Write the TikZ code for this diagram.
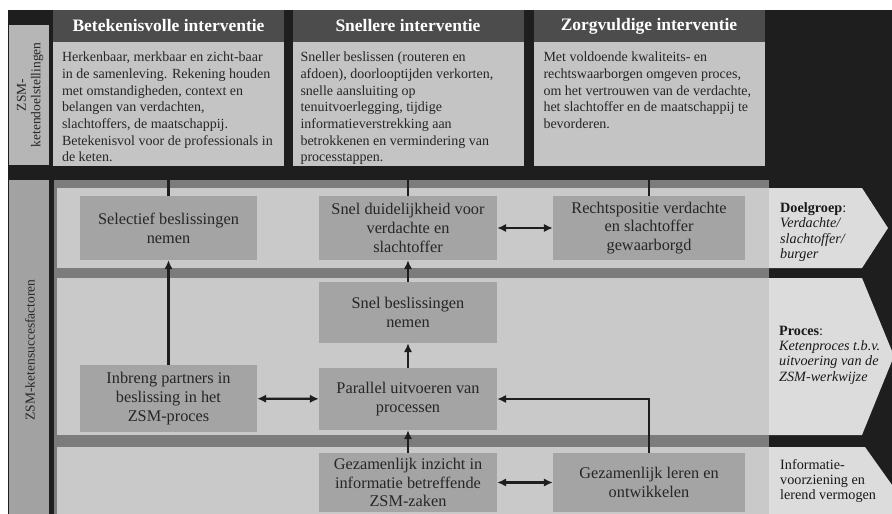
\documentclass[tikz,border=0pt]{standalone}
\usepackage{fontspec}
\setmainfont{Liberation Serif}
\usetikzlibrary{positioning,arrows.meta}

\definecolor{darkbg}{HTML}{1E1E1E}
\definecolor{headgray}{HTML}{4C4C4C}
\definecolor{bodygray}{HTML}{C4C4C4}
\definecolor{toplabel}{HTML}{B6B6B6}
\definecolor{botlabel}{HTML}{A2A2A2}
\definecolor{bandgray}{HTML}{7C7C7C}
\definecolor{rowgray}{HTML}{C9C9C9}
\definecolor{boxgray}{HTML}{A4A4A4}
\definecolor{chevgray}{HTML}{DCDCDC}
\definecolor{inkgray}{HTML}{262626}

\tikzset{
  goalhead/.style={fill=headgray, text=white, minimum width=231pt, minimum height=32pt,
    inner sep=0pt, font=\fontsize{17.5}{20}\selectfont\bfseries},
  goalbox/.style={fill=bodygray, minimum width=231pt, minimum height=124pt, inner sep=0pt},
  goaltext/.style={anchor=north west, align=left, inner sep=0pt, text=inkgray,
    font=\fontsize{14}{16.7}\selectfont},
  factor/.style={fill=boxgray, text=inkgray, align=center, inner sep=0pt,
    font=\fontsize{16.3}{18.7}\selectfont},
  sidetext/.style={anchor=west, align=left, inner sep=0pt, text=black!90,
    font=\fontsize{14.2}{15.3}\selectfont},
  vlabel/.style={rotate=90, align=center, inner sep=0pt, text=inkgray,
    font=\fontsize{13.5}{14.5}\selectfont},
  link/.style={line width=2.2pt, draw=darkbg},
}

\begin{document}
\begin{tikzpicture}[x=1pt, y=-1pt, >={Latex[length=9pt,width=8.5pt]}]
  \useasboundingbox (0,0) rectangle (892,514);
  \clip (0,0) rectangle (892,514);
  \fill[white] (0,0) rectangle (892,514);
  \fill[darkbg] (8,10) rectangle (892,514);

  % ketendoelstellingen
  \fill[toplabel] (9,25) rectangle (49,165);
  \node[vlabel] (doellabel) at (30,95) {ZSM-\\ketendoelstellingen};

  \node[goalhead] (head1) at (168.5,26) {Betekenisvolle interventie};
  \node[goalhead] (head2) at (408,26) {Snellere interventie};
  \node[goalhead] (head3) at (649,26) {Zorgvuldige interventie};
  \node[goalbox] (goal1) at (168.5,104) {};
  \node[goalbox] (goal2) at (408,104) {};
  \node[goalbox] (goal3) at (649,104) {};

  \node[goaltext] (text1) at ([xshift=9pt,yshift=-10pt]goal1.north west)
    {Herkenbaar, merkbaar en zicht-baar\\in de samenleving. Rekening houden\\met omstandigheden, context en\\belangen van verdachten,\\slachtoffers, de maatschappij.\\Betekenisvol voor de professionals in\\de keten.};
  \node[goaltext] (text2) at ([xshift=8pt,yshift=-10pt]goal2.north west)
    {Sneller beslissen (routeren en\\afdoen), doorlooptijden verkorten,\\snelle aansluiting op\\tenuitvoerlegging, tijdige\\informatieverstrekking aan\\betrokkenen en vermindering van\\processtappen.};
  \node[goaltext] (text3) at ([xshift=10pt,yshift=-10pt]goal3.north west)
    {Met voldoende kwaliteits- en\\rechtswaarborgen omgeven proces,\\om het vertrouwen van de verdachte,\\het slachtoffer en de maatschappij te\\bevorderen.};

  % ketensuccesfactoren
  \fill[botlabel] (9,180) rectangle (49,514);
  \node[vlabel] (succlabel) at (30,350) {ZSM-ketensuccesfactoren};
  \fill[bandgray] (54,180) rectangle (769,514);
  \fill[rowgray] (57,188) rectangle (769,268);
  \fill[rowgray] (57,278) rectangle (769,435);
  \fill[rowgray] (57,447) rectangle (769,514);

  \fill[chevgray] (769,188) -- (862,188) -- (888,228) -- (862,268) -- (769,268) -- cycle;
  \fill[chevgray] (769,278) -- (862,278) -- (894,356) -- (862,435) -- (769,435) -- cycle;
  \fill[chevgray] (769,447) -- (865,447) -- (902,499) -- (902,514) -- (769,514) -- cycle;

  \node[sidetext] (doelgroep) at (780,232)
    {\textbf{Doelgroep}:\\\textit{Verdachte/}\\\textit{slachtoffer/}\\\textit{burger}};
  \node[sidetext] (proces) at (779,355)
    {\textbf{Proces}:\\\textit{Ketenproces t.b.v.}\\\textit{uitvoering van de}\\\textit{ZSM-werkwijze}};
  \node[sidetext] (informatie) at (780,481)
    {Informatie-\\voorziening en\\lerend vermogen};

  \node[factor, minimum width=177pt, minimum height=64pt] (selectief) at (168.5,228)
    {Selectief beslissingen\\nemen};
  \node[factor, minimum width=178pt, minimum height=64pt] (duidelijk) at (408,228)
    {Snel duidelijkheid voor\\verdachte en\\slachtoffer};
  \node[factor, minimum width=192pt, minimum height=64pt] (rechtspos) at (649,228)
    {Rechtspositie verdachte\\en slachtoffer\\gewaarborgd};
  \node[factor, minimum width=178pt, minimum height=61pt] (snelbesl) at (408,312.5)
    {Snel beslissingen\\nemen};
  \node[factor, minimum width=178pt, minimum height=62pt] (parallel) at (408,399)
    {Parallel uitvoeren van\\processen};
  \node[factor, minimum width=177pt, minimum height=67pt] (inbreng) at (168.5,398.5)
    {Inbreng partners in\\beslissing in het\\ZSM-proces};
  \node[factor, minimum width=178pt, minimum height=59pt] (inzicht) at (408,482.5)
    {Gezamenlijk inzicht in\\informatie betreffende\\ZSM-zaken};
  \node[factor, minimum width=192pt, minimum height=59pt] (leren) at (649,482.5)
    {Gezamenlijk leren en\\ontwikkelen};

  \draw[link] (goal1) -- (selectief);
  \draw[link] (goal2) -- (duidelijk);
  \draw[link] (goal3) -- (rechtspos);
  \draw[link, <->] (duidelijk) -- (rechtspos);
  \draw[link, ->] (snelbesl) -- (duidelijk);
  \draw[link, ->] (parallel) -- (snelbesl);
  \draw[link, ->] (inbreng) -- (selectief);
  \draw[link, <->] (inbreng) -- (parallel);
  \draw[link, ->] (inzicht) -- (parallel);
  \draw[link, <->] (inzicht) -- (leren);
  \draw[link, ->] (leren.north) |- (parallel.east);
\end{tikzpicture}
\end{document}
